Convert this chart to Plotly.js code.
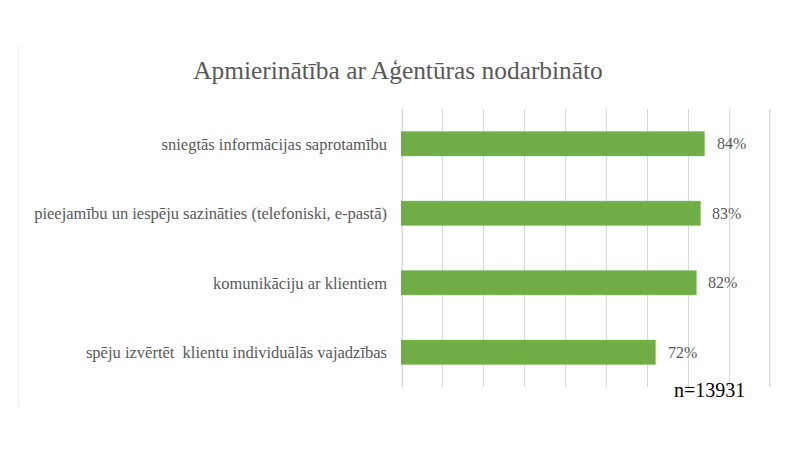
<!DOCTYPE html>
<html>
<head>
<meta charset="utf-8">
<script src="https://cdn.plot.ly/plotly-3.0.1.min.js"></script>
<style>html,body{margin:0;padding:0;background:#fff;}#chart{width:800px;height:450px;}</style>
</head>
<body>
<div id="chart"></div>
<script>
const categories = [
  "sniegtās informācijas saprotamību",
  "pieejamību un iespēju sazināties (telefoniski, e-pastā)",
  "komunikāciju ar klientiem",
  "spēju izvērtēt  klientu individuālās vajadzības"
];
const values = [0.84, 0.83, 0.82, 0.72];
const valueLabels = ["84%", "83%", "82%", "72%"];
const titleText = "Apmierinātība ar Aģentūras nodarbināto";
const noteText = "n=13931";
const axisMin = 0.1;
const axisMax = 1.0;

const serif = "'Liberation Serif', 'Times New Roman', serif";

const trace = {
  type: "bar",
  orientation: "h",
  y: categories,
  x: values,
  base: 0,
  marker: {color: "#70AD47", line: {color: "#8cc46a", width: 0.5}},
  hoverinfo: "none"
};

const annotations = categories.map((c, i) => ({
  x: values[i], y: c, xref: "x", yref: "y",
  text: valueLabels[i], showarrow: false,
  xanchor: "left", xshift: 10,
  font: {family: serif, size: 16, color: "#595959"}
}));
annotations.push({
  x: 0.834, y: -0.011, xref: "paper", yref: "paper",
  text: noteText, showarrow: false, xanchor: "center", yanchor: "middle",
  font: {family: serif, size: 20, color: "#000000"}
});

const layout = {
  width: 800, height: 450,
  margin: {l: 401, r: 29, t: 109, b: 63, pad: 0},
  paper_bgcolor: "#ffffff", plot_bgcolor: "#ffffff",
  title: {
    text: titleText, x: 0.4975, xanchor: "center",
    y: 1 - 70/450, yanchor: "middle", yref: "container",
    font: {family: serif, size: 25.4, color: "#595959"}
  },
  xaxis: {
    range: [0.0975, 1.0025], dtick: 0.1, tick0: 0,
    showgrid: true, gridcolor: "#d9d9d9", gridwidth: 1,
    zeroline: false, showline: false, showticklabels: false, ticks: ""
  },
  yaxis: {
    autorange: "reversed", showgrid: false, zeroline: false, showline: false,
    ticks: "", ticklabelstandoff: 13,
    tickfont: {family: serif, size: 16.5, color: "#595959"}
  },
  bargap: 0.65,
  showlegend: false,
  annotations: annotations,
  shapes: [{
    type: "line", xref: "paper", yref: "paper",
    x0: (18.5 - 401) / 370, x1: (18.5 - 401) / 370,
    y0: (387 - 45) / 278, y1: (387 - 405) / 278,
    line: {color: "#f0f0f0", width: 1}
  }, {
    type: "line", xref: "x", yref: "paper", layer: "below",
    x0: axisMin, x1: axisMin, y0: 0, y1: 1,
    line: {color: "#d9d9d9", width: 1}
  }, {
    type: "line", xref: "x", yref: "paper", layer: "below",
    x0: axisMax, x1: axisMax, y0: 0, y1: 1,
    line: {color: "#d9d9d9", width: 1}
  }]
};

Plotly.newPlot("chart", [trace], layout, {displayModeBar: false, staticPlot: true});
</script>
</body>
</html>
